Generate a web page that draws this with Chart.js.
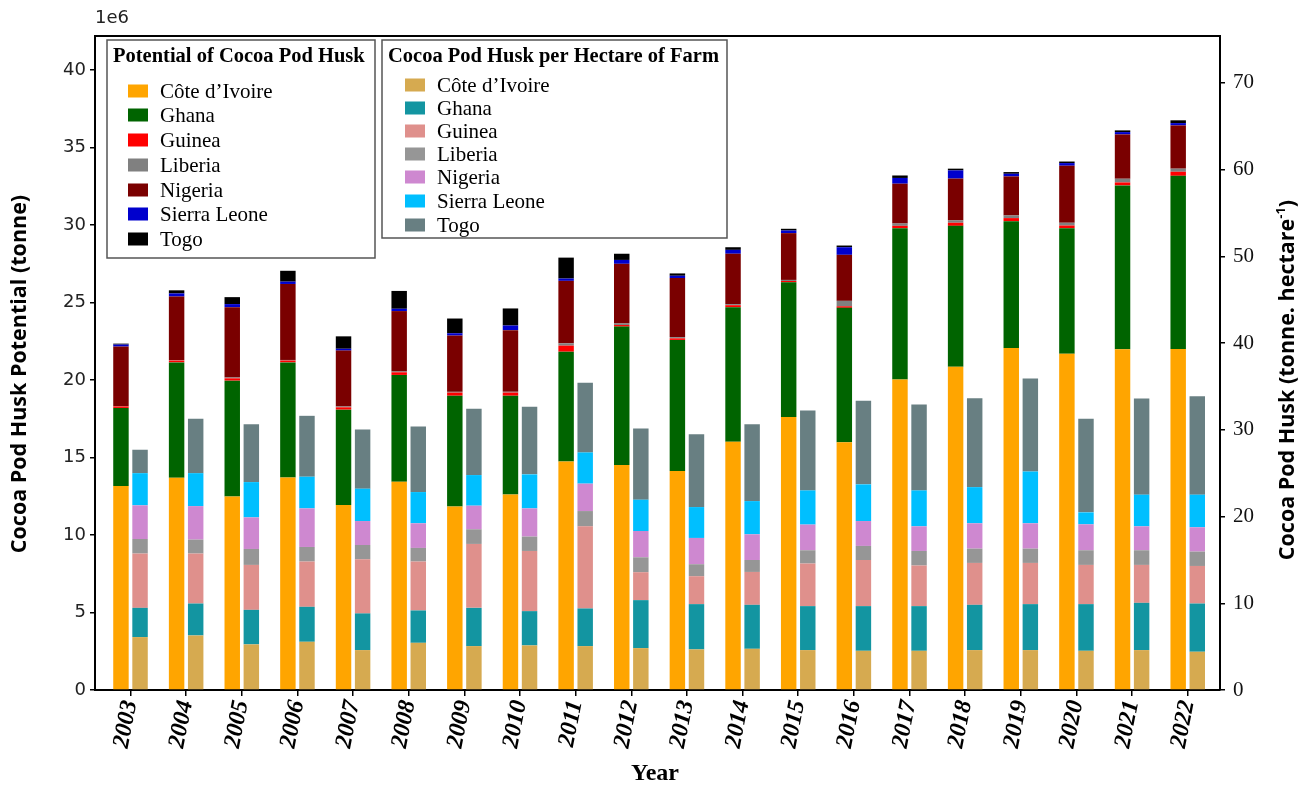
<!DOCTYPE html>
<html>
<head>
<meta charset="utf-8">
<script src="https://cdn.jsdelivr.net/npm/chart.js@4.4.0/dist/chart.umd.min.js"></script>
<style>
  html, body { margin: 0; padding: 0; background: #fff; }
  #wrap { position: relative; width: 1299px; height: 786px; }
</style>
</head>
<body>
<div id="wrap"><canvas id="chart" width="1299" height="786"></canvas></div>
<script>
const years = [2003, 2004, 2005, 2006, 2007, 2008, 2009, 2010, 2011, 2012,
               2013, 2014, 2015, 2016, 2017, 2018, 2019, 2020, 2021, 2022];
const countries = ["Côte d’Ivoire", "Ghana", "Guinea", "Liberia", "Nigeria", "Sierra Leone", "Togo"];

// potential of cocoa pod husk (million tonnes)
const potCote    = [13.16, 13.70, 12.49, 13.71, 11.93, 13.44, 11.84, 12.62, 14.75, 14.52, 14.13, 16.02, 17.62, 15.98, 20.03, 20.85, 22.07, 21.69, 21.98, 22.01];
const potGhana   = [5.04, 7.44, 7.47, 7.43, 6.16, 6.89, 7.15, 6.37, 7.08, 8.93, 8.46, 8.68, 8.69, 8.68, 9.77, 9.10, 8.18, 8.11, 10.58, 11.17];
const potGuinea  = [0.10, 0.12, 0.15, 0.12, 0.15, 0.17, 0.20, 0.20, 0.39, 0.10, 0.10, 0.13, 0.08, 0.10, 0.15, 0.20, 0.20, 0.17, 0.19, 0.26];
const potLiberia = [0.02, 0.03, 0.05, 0.04, 0.05, 0.05, 0.05, 0.05, 0.15, 0.10, 0.08, 0.07, 0.07, 0.35, 0.15, 0.15, 0.17, 0.18, 0.24, 0.20];
const potNigeria = [3.84, 4.10, 4.54, 4.90, 3.61, 3.90, 3.63, 3.98, 4.03, 3.85, 3.81, 3.25, 3.02, 2.97, 2.57, 2.70, 2.52, 3.68, 2.86, 2.79];
const potSierra  = [0.13, 0.20, 0.20, 0.15, 0.12, 0.15, 0.15, 0.30, 0.15, 0.25, 0.15, 0.25, 0.17, 0.49, 0.37, 0.53, 0.17, 0.17, 0.15, 0.15];
const potTogo    = [0.06, 0.20, 0.45, 0.70, 0.80, 1.15, 0.95, 1.10, 1.35, 0.40, 0.15, 0.17, 0.11, 0.11, 0.16, 0.11, 0.11, 0.10, 0.11, 0.18];

// cocoa pod husk per hectare of farm (tonne per hectare)
const haCote    = [6.10, 6.29, 5.26, 5.56, 4.60, 5.44, 5.06, 5.14, 5.06, 4.83, 4.68, 4.75, 4.60, 4.52, 4.52, 4.60, 4.60, 4.52, 4.60, 4.41];
const haGhana   = [3.37, 3.68, 3.98, 4.03, 4.23, 3.73, 4.41, 3.95, 4.34, 5.53, 5.22, 5.07, 5.07, 5.15, 5.15, 5.22, 5.30, 5.38, 5.45, 5.56];
const haGuinea  = [6.26, 5.76, 5.18, 5.22, 6.24, 5.64, 7.37, 6.94, 9.47, 3.22, 3.22, 3.79, 4.91, 5.32, 4.68, 4.83, 4.75, 4.52, 4.37, 4.33];
const haLiberia = [1.68, 1.61, 1.84, 1.68, 1.65, 1.57, 1.69, 1.66, 1.76, 1.72, 1.38, 1.38, 1.53, 1.62, 1.68, 1.65, 1.65, 1.69, 1.69, 1.66];
const haNigeria = [3.88, 3.86, 3.64, 4.45, 2.76, 2.84, 2.72, 3.25, 3.16, 3.03, 3.03, 2.96, 2.96, 2.87, 2.84, 2.92, 2.92, 2.99, 2.76, 2.80];
const haSierra  = [3.71, 3.80, 4.07, 3.65, 3.73, 3.60, 3.53, 3.92, 3.60, 3.61, 3.56, 3.83, 3.94, 4.23, 4.14, 4.17, 5.98, 1.38, 3.65, 3.76];
const haTogo    = [2.70, 6.27, 6.67, 7.02, 6.82, 7.56, 7.64, 7.79, 8.02, 8.21, 8.40, 8.86, 9.21, 9.63, 9.90, 10.25, 10.70, 10.79, 11.08, 11.35];

const leftTicks = [0, 5, 10, 15, 20, 25, 30, 35, 40];
const rightTicks = [0, 10, 20, 30, 40, 50, 60, 70];

const potColors = ["#FFA500", "#006400", "#FF0000", "#808080", "#7A0000", "#0000CD", "#000000"];
const haColors = ["#D6AA50", "#1395A1", "#DF908C", "#969696", "#CE88D0", "#00BFFF", "#687F82"];

const potSeries = [potCote, potGhana, potGuinea, potLiberia, potNigeria, potSierra, potTogo];
const haSeries = [haCote, haGhana, haGuinea, haLiberia, haNigeria, haSierra, haTogo];

const datasets = [];
potSeries.forEach((vals, i) => {
  datasets.push({
    label: countries[i], data: vals.map(v => v * 1e6), backgroundColor: potColors[i],
    stack: "pot", yAxisID: "y", borderWidth: 0
  });
});
haSeries.forEach((vals, i) => {
  datasets.push({
    label: countries[i], data: vals, backgroundColor: haColors[i],
    stack: "ha", yAxisID: "y1", borderWidth: 0
  });
});

function drawLegend(ctx, box, title, colors) {
  ctx.save();
  ctx.strokeStyle = "#555";
  ctx.lineWidth = 1.5;
  ctx.strokeRect(box.x, box.y, box.w, box.h);
  ctx.fillStyle = "#000";
  ctx.textBaseline = "middle";
  ctx.textAlign = "left";
  ctx.font = 'bold 20.5px "Liberation Serif"';
  ctx.fillText(title, box.x + 6, box.y + 17);
  ctx.font = '21px "Liberation Serif"';
  countries.forEach((name, i) => {
    const y = box.rows[i];
    ctx.fillStyle = colors[i];
    ctx.fillRect(box.sx, y - 6.5, 20, 13);
    ctx.fillStyle = "#000";
    ctx.fillText(name, box.tx, y + 1);
  });
  ctx.restore();
}

const decorations = {
  id: "decorations",
  afterDraw(chart) {
    const ctx = chart.ctx;
    const area = chart.chartArea;
    ctx.save();
    // top spine
    ctx.strokeStyle = "#000";
    ctx.lineWidth = 2;
    ctx.beginPath();
    ctx.moveTo(area.left - 1, area.top);
    ctx.lineTo(area.right + 1, area.top);
    ctx.stroke();

    // offset text
    ctx.fillStyle = "#222";
    ctx.font = '18px "DejaVu Sans"';
    ctx.textAlign = "left";
    ctx.textBaseline = "middle";
    ctx.fillText("1e6", 95, 18);

    // left axis title
    ctx.save();
    ctx.translate(20, 374);
    ctx.rotate(-Math.PI / 2);
    ctx.textAlign = "center";
    ctx.fillStyle = "#000";
    ctx.font = 'bold 21.5px "Open Sans"';
    ctx.fillText("Cocoa Pod Husk Potential (tonne)", 0, 0);
    ctx.restore();

    // right axis title with superscript
    ctx.save();
    ctx.translate(1288, 380);
    ctx.rotate(-Math.PI / 2);
    ctx.fillStyle = "#000";
    const mainFont = 'bold 21.5px "Open Sans"';
    const supFont = 'bold 13px "Open Sans"';
    const p1 = "Cocoa Pod Husk (tonne. hectare";
    const p2 = "-1";
    const p3 = ")";
    ctx.font = mainFont;
    const w1 = ctx.measureText(p1).width;
    const w3 = ctx.measureText(p3).width;
    ctx.font = supFont;
    const w2 = ctx.measureText(p2).width;
    let x = -(w1 + w2 + w3) / 2;
    ctx.textAlign = "left";
    ctx.font = mainFont;
    ctx.fillText(p1, x, 0);
    x += w1;
    ctx.font = supFont;
    ctx.fillText(p2, x, -7);
    x += w2;
    ctx.font = mainFont;
    ctx.fillText(p3, x, 0);
    ctx.restore();

    // x axis title
    ctx.fillStyle = "#000";
    ctx.font = 'bold 24px "Liberation Serif"';
    ctx.textAlign = "center";
    ctx.fillText("Year", 655, 774);
    ctx.restore();

    drawLegend(ctx, { x: 107, y: 40, w: 268, h: 218, sx: 128, tx: 160,
      rows: [91, 115, 140, 165, 190, 214, 239] }, "Potential of Cocoa Pod Husk", potColors);
    drawLegend(ctx, { x: 382, y: 40, w: 345, h: 198, sx: 405, tx: 437,
      rows: [85, 108, 131, 154, 177, 201, 225] }, "Cocoa Pod Husk per Hectare of Farm", haColors);
  }
};

new Chart(document.getElementById("chart"), {
  type: "bar",
  data: { labels: years, datasets },
  options: {
    responsive: false,
    animation: false,
    devicePixelRatio: 1,
    categoryPercentage: 0.686,
    barPercentage: 0.81,
    layout: { padding: { top: 36, left: 0, right: 0, bottom: 0 } },
    plugins: { legend: { display: false }, tooltip: { enabled: false } },
    scales: {
      x: {
        type: "linear",
        offset: false,
        min: 2002.362,
        max: 2022.58,
        afterFit: s => { s.height = 96; },
        grid: { offset: false, drawOnChartArea: false, drawTicks: true, tickLength: 6, color: "#000", lineWidth: 1.5 },
        border: { color: "#000", width: 2 },
        ticks: {
          stepSize: 1, autoSkip: false, includeBounds: false,
          minRotation: 79, maxRotation: 79, padding: 2,
          color: "#000",
          font: { family: "Liberation Serif", size: 24, weight: "bold", style: "italic" },
          callback: v => String(v)
        }
      },
      y: {
        position: "left",
        stacked: true,
        min: 0,
        max: 42.2e6,
        afterFit: s => { s.width = 95; },
        afterBuildTicks: s => { s.ticks = leftTicks.map(v => ({ value: v * 1e6 })); },
        grid: { drawOnChartArea: false, drawTicks: true, tickLength: 5, color: "#000", lineWidth: 1.5 },
        border: { color: "#000", width: 2 },
        ticks: {
          color: "#222", padding: 4,
          font: { family: "DejaVu Sans", size: 18 },
          callback: v => String(Math.round(v / 1e6))
        }
      },
      y1: {
        position: "right",
        stacked: true,
        min: 0,
        max: 75.4,
        afterFit: s => { s.width = 79; },
        afterBuildTicks: s => { s.ticks = rightTicks.map(v => ({ value: v })); },
        grid: { drawOnChartArea: false, drawTicks: true, tickLength: 5, color: "#000", lineWidth: 1.5 },
        border: { color: "#000", width: 2 },
        ticks: {
          color: "#111", padding: 8,
          font: { family: "Liberation Serif", size: 21 },
          callback: v => String(v)
        }
      }
    }
  },
  plugins: [decorations]
});
</script>
</body>
</html>
